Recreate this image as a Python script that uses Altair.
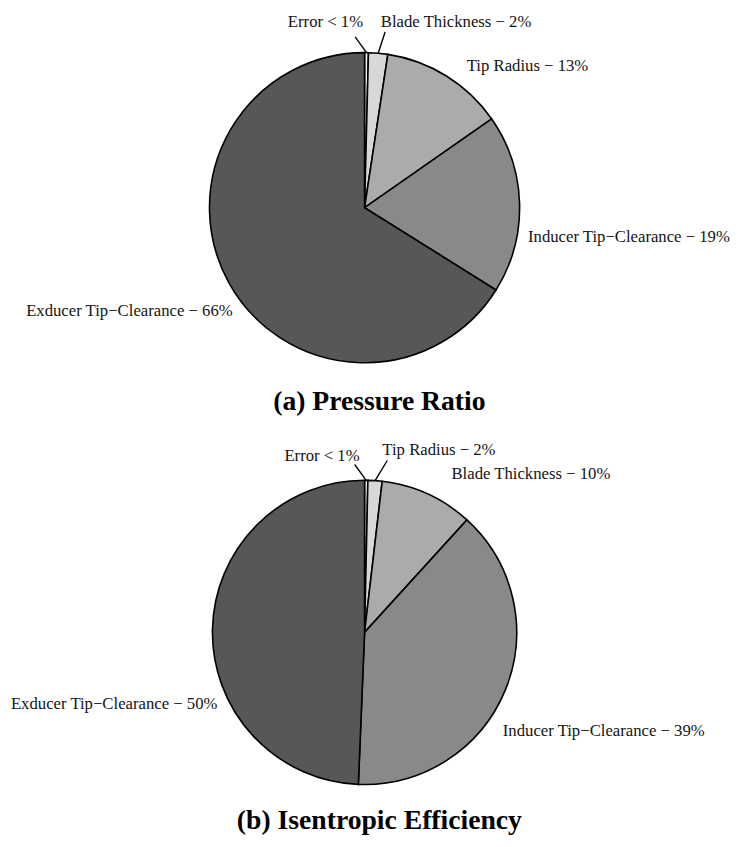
import math
import pandas as pd
import altair as alt

# ---------------- data ----------------
pr_labels = ["Error < 1%", "Blade Thickness − 2%", "Tip Radius − 13%",
             "Inducer Tip−Clearance − 19%", "Exducer Tip−Clearance − 66%"]
pr_values = [0.4, 2.0, 12.9, 18.6, 66.1]

ie_labels = ["Error < 1%", "Tip Radius − 2%", "Blade Thickness − 10%",
             "Inducer Tip−Clearance − 39%", "Exducer Tip−Clearance − 50%"]
ie_values = [0.35, 1.5, 9.9, 38.9, 49.35]

titles = ["(a) Pressure Ratio", "(b) Isentropic Efficiency"]

# ---------------- label layout (style, px offsets from slice edge midpoint) ----------------
pr_label_dx = [-3.5, 2.7, 20.6, 8.5, 3.8]
pr_label_dy = [31.0, 31.6, 9.6, -34.0, -29.0]
pr_align = ["right", "left", "left", "left", "right"]
pr_lead_dx = [-11.5, 7.0, None, None, None]
pr_lead_dy = [16.0, 21.5, None, None, None]

ie_label_dx = [-6.7, 7.4, 24.2, -2.5, 5.0]
ie_label_dy = [25.0, 31.4, 19.8, -41.6, -76.0]
ie_align = ["right", "left", "left", "left", "right"]
ie_lead_dx = [-11.7, 12.4, None, None, None]
ie_lead_dy = [16.0, 20.4, None, None, None]

GRAYS = ["#efefef", "#d8d8d8", "#ababab", "#898989", "#575757"]
FONT = "Liberation Serif"
W = 722


def panel(labels, values, ldx, ldy, aligns, ddx, ddy, radius, height, title, t_offset):
    total = sum(values)
    rows, leads = [], []
    cum = 0.0
    for i, (lab, v) in enumerate(zip(labels, values)):
        mid = (cum + v / 2.0) / total * 2 * math.pi
        cum += v
        ex, ey = radius * math.sin(mid), radius * math.cos(mid)
        rows.append(dict(label=lab, value=v, idx=i, tx=ex + ldx[i], ty=ey + ldy[i], align=aligns[i]))
        if ddx[i] is not None:
            leads.append(dict(label=lab, ex=ex, ey=ey, lx=ex + ddx[i], ly=ey + ddy[i]))
    df = pd.DataFrame(rows)
    ld = pd.DataFrame(leads)

    xs = alt.Scale(domain=[-W / 2, W / 2], nice=False, zero=False)
    ys = alt.Scale(domain=[-height / 2, height / 2], nice=False, zero=False)

    arcs = alt.Chart(df).mark_arc(radius=radius, stroke="black", strokeWidth=1.6).encode(
        theta=alt.Theta("value:Q", stack=True),
        color=alt.Color("idx:O", scale=alt.Scale(domain=list(range(5)), range=GRAYS), legend=None),
        order=alt.Order("idx:Q"),
    )
    rules = alt.Chart(ld).mark_rule(color="black", strokeWidth=1.4).encode(
        x=alt.X("ex:Q", scale=xs, axis=None),
        y=alt.Y("ey:Q", scale=ys, axis=None),
        x2="lx:Q",
        y2="ly:Q",
    )
    layers = [arcs, rules]
    for al in ["left", "right"]:
        layers.append(
            alt.Chart(df).transform_filter(alt.datum.align == al)
            .mark_text(align=al, baseline="middle", font=FONT, fontSize=16.9, color="#141414")
            .encode(
                x=alt.X("tx:Q", scale=xs, axis=None),
                y=alt.Y("ty:Q", scale=ys, axis=None),
                text="label:N",
            )
        )
    return alt.layer(*layers).properties(
        width=W,
        height=height,
        title=alt.TitleParams(
            title, orient="bottom", anchor="middle", frame="group", font=FONT,
            fontSize=28, fontWeight="bold", color="#000000", baseline="middle",
            offset=t_offset, dx=15,
        ),
    )


top = panel(pr_labels, pr_values, pr_label_dx, pr_label_dy, pr_align,
            pr_lead_dx, pr_lead_dy, 157, 394, titles[0], 0)
bottom = panel(ie_labels, ie_values, ie_label_dx, ie_label_dy, ie_align,
               ie_lead_dx, ie_lead_dy, 154, 404, titles[1], -11)

chart = alt.vconcat(top, bottom, spacing=17).properties(
    padding=0, background="white"
).configure_view(stroke=None)

chart.save("out.html", embed_options={"renderer": "svg", "actions": False})
